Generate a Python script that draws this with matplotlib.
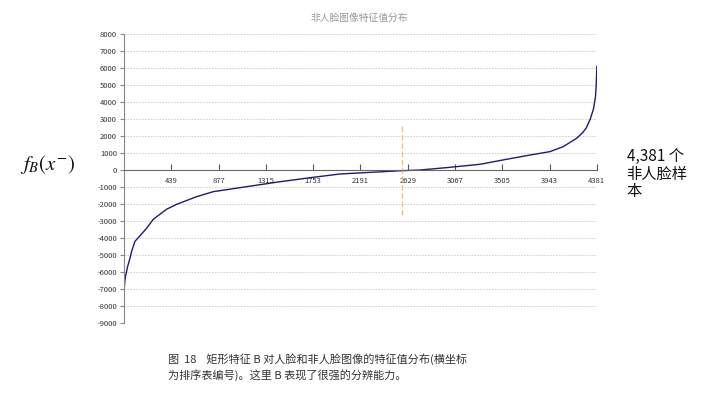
import matplotlib
matplotlib.use("Agg")
import matplotlib.pyplot as plt

# sorted feature values of the 4,381 non-face samples
sample_index = [0, 3, 8, 15, 34, 56, 71, 102, 142, 210, 272, 395, 488, 673, 827,
                1136, 1445, 1753, 2000, 2216, 2571, 2741, 2988, 3297, 3544, 3760,
                3945, 4068, 4192, 4250, 4285, 4320, 4350, 4368, 4375, 4381]
feature_value = [-7500, -7000, -6600, -6270, -5690, -5200, -4800, -4200, -3920, -3430,
                 -2900, -2310, -2020, -1570, -1275, -980, -690, -430, -235, -160, -40,
                 0, 140, 335, 630, 880, 1080, 1370, 1860, 2200, 2500, 3000, 3600, 4300,
                 5000, 6100]

x_ticks = [439, 877, 1315, 1753, 2191, 2629, 3067, 3505, 3943, 4381]
y_ticks = list(range(-9000, 8001, 1000))

threshold_x = [2580, 2580]
threshold_y = [-2650, 2650]

TITLE = "非人脸图像特征值分布"
SIDE_NOTE = "4,381 个\n非人脸样\n本"
CAPTION = "图  18    矩形特征 B 对人脸和非人脸图像的特征值分布(横坐标\n为排序表编号)。这里 B 表现了很强的分辨能力。"

plt.rcParams["font.family"] = ["Noto Sans CJK SC", "DejaVu Sans"]
plt.rcParams["mathtext.fontset"] = "stix"

fig = plt.figure(figsize=(7.12, 3.96), dpi=100)
ax = fig.add_axes([0.174, 0.1843, 0.6643, 0.7298])

ax.plot(sample_index, feature_value, color="#1c1c72", linewidth=1.0)
ax.plot(threshold_x, threshold_y, color="#f2c36a", linewidth=1.0, linestyle=(0, (4, 2)))

ax.set_xlim(0, 4381)
ax.set_ylim(-9000, 8000)
ax.set_yticks(y_ticks)
ax.set_yticklabels([str(v) for v in y_ticks])
ax.set_xticks(x_ticks)
ax.set_xticklabels([str(v) for v in x_ticks])

for v in y_ticks:
    if v != 0:
        ax.axhline(v, color="#c8c8c8", linewidth=0.6, linestyle=(0, (2, 1.5)), zorder=0)

ax.spines["top"].set_visible(False)
ax.spines["right"].set_visible(False)
ax.spines["bottom"].set_position(("data", 0))
ax.spines["bottom"].set_color("#666666")
ax.spines["left"].set_color("#888888")
ax.tick_params(axis="x", direction="in", length=4, pad=5, labelsize=5.5,
               color="#555555", labelcolor="#333333")
ax.tick_params(axis="y", direction="out", length=3, pad=2, labelsize=5.5,
               color="#888888", labelcolor="#333333")

fig.text(0.505, 0.955, TITLE, ha="center", va="center", fontsize=7, color="#999999")
fig.text(0.028, 0.585, r"$f_B(x^{-})$", ha="left", va="center", fontsize=15, color="#111111")
fig.text(0.880, 0.56, SIDE_NOTE, ha="left", va="center", fontsize=11, color="#111111",
         linespacing=1.05)
fig.text(0.236, 0.073, CAPTION, ha="left", va="center", fontsize=8, color="#333333",
         linespacing=1.5)

fig.savefig("out.png", dpi=100)
